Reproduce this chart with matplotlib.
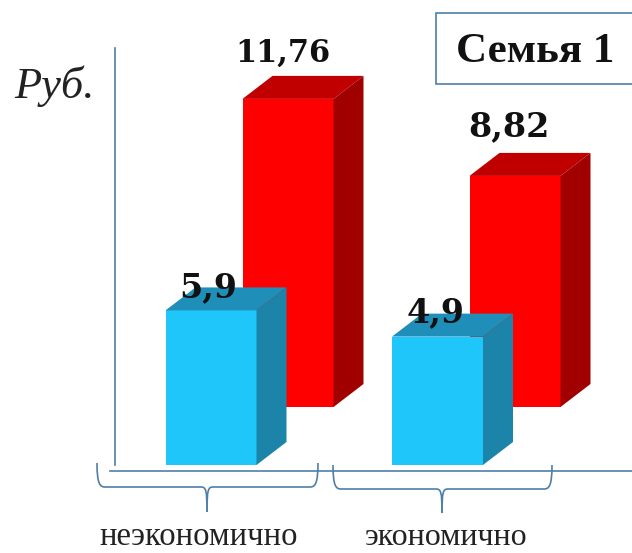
import matplotlib
matplotlib.use("Agg")
import matplotlib.pyplot as plt
from matplotlib.patches import Polygon, PathPatch, Rectangle
from matplotlib.path import Path

# data
categories = ["неэкономично", "экономично"]
blue_values = [5.9, 4.9]
red_values = [11.76, 8.82]
blue_labels = ["5,9", "4,9"]
red_labels = ["11,76", "8,82"]

W, H = 632, 553
PX_PER_UNIT = 26.2
BASE_PX = 465       # pixel row of value 0
RED_LIFT = 58 / PX_PER_UNIT   # red bars stand further back
DEPTH_X = 30
DEPTH_Y = 23 / PX_PER_UNIT
BAR_W = 91

LINE = "#4f7fa8"

fig = plt.figure(figsize=(W / 100, H / 100), dpi=100)

# value axes: x in pixels, y in rubles
ax = fig.add_axes([0, 0, 1, 1])
ax.set_xlim(0, W)
ax.set_ylim(-(H - BASE_PX) / PX_PER_UNIT, BASE_PX / PX_PER_UNIT)
ax.axis("off")

# overlay in pixel coords for the decorations
pix = fig.add_axes([0, 0, 1, 1], sharex=None)
pix.set_xlim(0, W)
pix.set_ylim(H, 0)
pix.axis("off")
pix.patch.set_alpha(0)


def bar3d(x, value, bottom, front, top, side, zorder):
    ax.bar(x, value, BAR_W, bottom=bottom, color=front, zorder=zorder, linewidth=0)
    l, r = x - BAR_W / 2, x + BAR_W / 2
    up = bottom + value
    ax.add_patch(Polygon([(l, up), (r, up), (r + DEPTH_X, up + DEPTH_Y), (l + DEPTH_X, up + DEPTH_Y)],
                         fc=top, ec="none", zorder=zorder))
    ax.add_patch(Polygon([(r, bottom), (r + DEPTH_X, bottom + DEPTH_Y), (r + DEPTH_X, up + DEPTH_Y), (r, up)],
                         fc=side, ec="none", zorder=zorder))


red_x = [288, 515]
blue_x = [211, 437.5]
for x, v in zip(red_x, red_values):
    bar3d(x, v, RED_LIFT, "#ff0000", "#c00000", "#a00000", 2)
for x, v in zip(blue_x, blue_values):
    bar3d(x, v, 0, "#1fc6fa", "#1f8fba", "#1b84a8", 3)

# value labels
num_font = dict(family="DejaVu Serif", fontweight="bold", color="#111111",
                ha="center", va="baseline", zorder=5)
for x, v, s, dx, dy, fs in zip(red_x, red_values, red_labels, [-5, -6], [37, 40], [22, 24]):
    ax.annotate(s, (x, v + RED_LIFT), xytext=(dx * 0.72, dy * 0.72), textcoords="offset points",
                fontsize=fs, **num_font)
for x, v, s, dx, dy in zip(blue_x, blue_values, blue_labels, [-3, -1.5], [13, 14]):
    ax.annotate(s, (x, v), xytext=(dx * 0.72, dy * 0.72), textcoords="offset points",
                fontsize=24, **num_font)

# axis lines
pix.plot([115, 115], [48, 465], color=LINE, lw=1.2)
pix.plot([110, 632], [471, 471], color=LINE, lw=1.2)


def brace(x0, x1, xm, top, low, tip):
    verts = [(x0, top), (x0, low - 3), (x0 + 3, low), (x0 + 8, low),
             (xm - 6, low), (xm - 1, low), (xm, low + 3), (xm, tip)]
    codes = [Path.MOVETO, Path.CURVE4, Path.CURVE4, Path.CURVE4,
             Path.LINETO, Path.CURVE4, Path.CURVE4, Path.CURVE4]
    pix.add_patch(PathPatch(Path(verts, codes), fc="none", ec=LINE, lw=1.2))
    verts = [(x1, top), (x1, low - 3), (x1 - 3, low), (x1 - 8, low),
             (xm + 6, low), (xm + 1, low), (xm, low + 3), (xm, tip)]
    pix.add_patch(PathPatch(Path(verts, codes), fc="none", ec=LINE, lw=1.2))


brace(97, 318, 207, 463, 487, 512)
brace(333, 552, 442, 465, 489, 513)

# category labels
pix.text(199, 545, categories[0], family="Liberation Serif", fontsize=23.5, ha="center", va="baseline", color="#222222")
pix.text(446, 545, categories[1], family="Liberation Serif", fontsize=23, ha="center", va="baseline", color="#222222")

# y axis caption
pix.text(14, 98, "Руб.", family="Liberation Serif", style="italic", fontsize=32, ha="left", va="baseline", color="#222222")

# title box
pix.add_patch(Rectangle((436, 13), 210, 71, fc="white", ec=LINE, lw=1.2, clip_on=True))
pix.text(456, 62, "Семья 1", family="Liberation Serif", fontweight="bold", fontsize=31,
         ha="left", va="baseline", color="#111111")

fig.savefig("out.png", dpi=100)
